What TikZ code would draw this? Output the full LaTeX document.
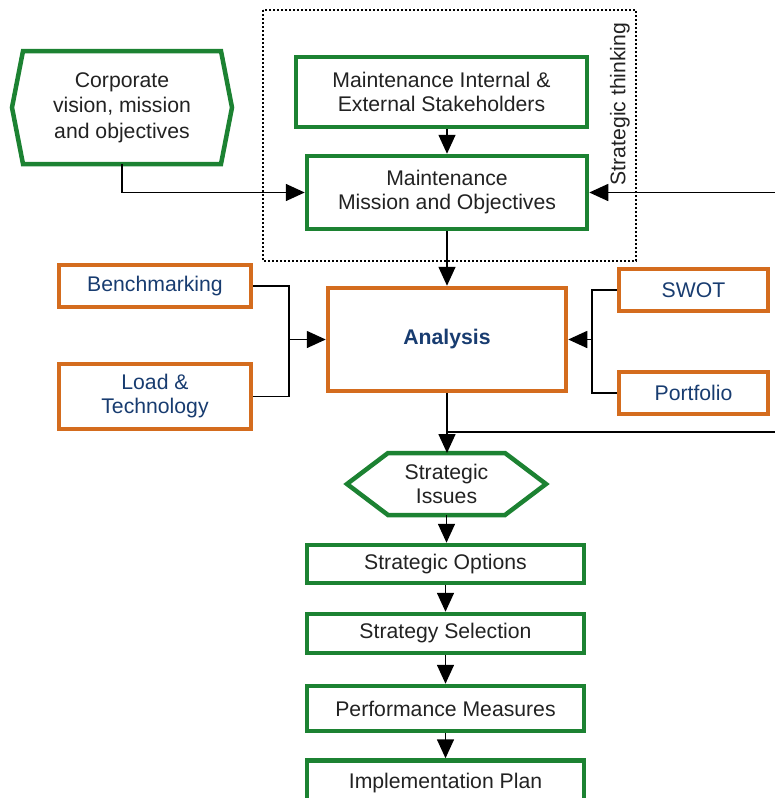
\documentclass[tikz,border=0pt]{standalone}
\usepackage{fontspec}
\setmainfont{Liberation Sans}
\usetikzlibrary{arrows.meta, calc, positioning}
\usepackage{xcolor}
\definecolor{boxgreen}{RGB}{28,130,50}
\definecolor{boxorange}{RGB}{212,108,30}
\definecolor{textblue}{RGB}{24,60,112}
\definecolor{textgray}{RGB}{34,34,34}

\begin{document}
\begin{tikzpicture}[x=1pt, y=-1pt,
  every node/.style={font=\fontsize{21.2}{24}\selectfont, text=textgray, align=center},
  greenbox/.style={draw=boxgreen, line width=4.5pt, inner sep=0pt},
  orangebox/.style={draw=boxorange, line width=4.5pt, inner sep=0pt, text=textblue},
  hexlabel/.style={inner sep=0pt, outer sep=0pt},
  hexline/.style={draw=boxgreen, line width=4.5pt, line join=miter},
  link/.style={line width=1.6pt, black},
  arr/.style={link, -{Triangle[length=19pt, width=17pt]}}]
  \useasboundingbox (0,0) rectangle (775,798);
  \clip (0,0) rectangle (775,798);

  % strategic thinking frame
  \draw[line width=1.3pt, dash pattern=on 2pt off 2pt] (263,10) rectangle (636,261);
  \node[rotate=90] (thinking) at (620,104) {Strategic thinking};

  % top part
  \node[hexlabel, minimum width=220pt, minimum height=113pt,
    font=\fontsize{21.2}{25.7}\selectfont] (corp) at (122,107.5)
    {Corporate\\vision, mission\\and objectives};
  \draw[hexline] (corp.west) -- ($(corp.north west)+(11,0)$) -- ($(corp.north east)+(-11,0)$)
    -- (corp.east) -- ($(corp.south east)+(-11,0)$) -- ($(corp.south west)+(11,0)$) -- cycle;
  \node[greenbox, minimum width=291pt, minimum height=70pt] (stake) at (441.5,92)
    {Maintenance Internal \&\\External Stakeholders};
  \node[greenbox, minimum width=280pt, minimum height=73pt] (mission) at (447,192.5)
    {Maintenance\\Mission and Objectives};

  % analysis and its inputs
  \node[orangebox, minimum width=238pt, minimum height=103pt] (analysis) at (447,339.5)
    {\textbf{Analysis}};
  \node[orangebox, minimum width=192pt, minimum height=42pt] (bench) at (155,286) {Benchmarking};
  \node[orangebox, minimum width=192pt, minimum height=65pt] (load) at (155,396.5) {Load \&\\Technology};
  \node[orangebox, minimum width=149pt, minimum height=42pt] (swot) at (693.5,290) {SWOT};
  \node[orangebox, minimum width=149pt, minimum height=42pt] (portf) at (693.5,393) {Portfolio};

  % lower chain
  \node[hexlabel, minimum width=199pt, minimum height=62pt] (issues) at (446.5,484) {Strategic\\Issues};
  \draw[hexline] (issues.west) -- ($(issues.north west)+(41,0)$) -- ($(issues.north east)+(-41,0)$)
    -- (issues.east) -- ($(issues.south east)+(-41,0)$) -- ($(issues.south west)+(41,0)$) -- cycle;
  \node[greenbox, minimum width=277pt, minimum height=38pt] (options) at (445.5,564) {Strategic Options};
  \node[greenbox, minimum width=277pt, minimum height=39pt] (select) at (445.5,633.5) {Strategy Selection};
  \node[greenbox, minimum width=277pt, minimum height=45pt] (perf) at (445.5,708.5) {Performance Measures};
  \node[greenbox, minimum width=277pt, minimum height=45pt] (impl) at (445.5,783) {Implementation Plan};

  % connectors
  \coordinate (rin) at (790,192.5);
  \coordinate (brl) at (289,339.5);
  \coordinate (brr) at (592,339.5);
  \coordinate (fbr) at (790,432);
  \draw[arr] (stake.south -| mission) -- (mission.north);
  \draw[arr] (corp.south) |- (mission.west);
  \draw[arr] (rin) -- (mission.east);
  \draw[arr] (mission) -- (analysis);
  \draw[link] (bench.east) -| (brl) |- (load.east);
  \draw[arr] (brl) -- (analysis.west);
  \draw[link] (swot.west) -| (brr) |- (portf.west);
  \draw[arr] (brr) -- (analysis.east);
  \draw[arr] (analysis.south) -- (analysis.south |- issues.north);
  \draw[link] (analysis.south |- fbr) -- (fbr);
  \draw[arr] (issues.south) -- (issues.south |- options.north);
  \foreach \a/\b in {options/select, select/perf, perf/impl}
    \draw[arr] (\a) -- (\b);
\end{tikzpicture}
\end{document}
